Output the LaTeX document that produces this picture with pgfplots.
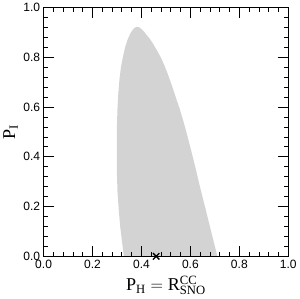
\documentclass[border=0pt]{standalone}
\usepackage{fontspec}
\setmainfont{Liberation Serif}
\setsansfont{Liberation Sans}
\usepackage{pgfplots}
\pgfplotsset{compat=1.18}
\definecolor{regiongray}{RGB}{211,211,211}
\begin{document}
\begin{tikzpicture}
\begin{axis}[
  scale only axis, width=244pt, height=248pt,
  xmin=0, xmax=1, ymin=0, ymax=1,
  xtick={0,0.2,0.4,0.6,0.8,1.0},
  ytick={0,0.2,0.4,0.6,0.8,1.0},
  minor tick num=4,
  tick align=inside,
  major tick length=10pt, minor tick length=4.5pt,
  axis line style={line width=1pt},
  every tick/.style={black, line width=0.8pt},
  tick label style={font=\fontsize{12}{14}\selectfont\sffamily},
  /pgf/number format/assume math mode=true,
  /pgf/number format/.cd, fixed, fixed zerofill, precision=1, /pgfplots/.cd,
  clip=false,
  xlabel={\fontsize{18}{21}\selectfont $\mathrm{P}_\mathrm{H}=\mathrm{R}_\mathrm{SNO}^\mathrm{CC}$},
  ylabel={\fontsize{18}{21}\selectfont $\mathrm{P}_\mathrm{I}$},
  xlabel style={at={(axis description cs:0.5,-0.117)}, anchor=center},
  ylabel style={at={(axis description cs:-0.135,0.5)}, anchor=center},
  axis on top,
]
\addplot[fill=regiongray, draw=none] coordinates {
 (0.328,0) (0.321,0.056) (0.313,0.12) (0.307,0.19) (0.302,0.26) (0.300,0.325)
 (0.299,0.39) (0.299,0.46) (0.300,0.53) (0.302,0.594) (0.305,0.65) (0.310,0.71)
 (0.316,0.76) (0.324,0.80) (0.333,0.84) (0.343,0.87) (0.353,0.893) (0.362,0.908)
 (0.371,0.918) (0.381,0.923) (0.390,0.921) (0.400,0.914) (0.410,0.904)
 (0.420,0.891) (0.432,0.877) (0.444,0.860) (0.462,0.830) (0.481,0.796)
 (0.496,0.762) (0.509,0.729) (0.522,0.693) (0.535,0.655) (0.546,0.622)
 (0.556,0.594) (0.576,0.527) (0.594,0.460) (0.615,0.379) (0.638,0.284)
 (0.662,0.190) (0.686,0.095) (0.71,0)
} -- cycle;
\addplot[only marks, mark=x, mark size=4.5pt, mark options={line width=1.3pt, black}] coordinates {(0.46,0)};
\end{axis}
\end{tikzpicture}
\end{document}
